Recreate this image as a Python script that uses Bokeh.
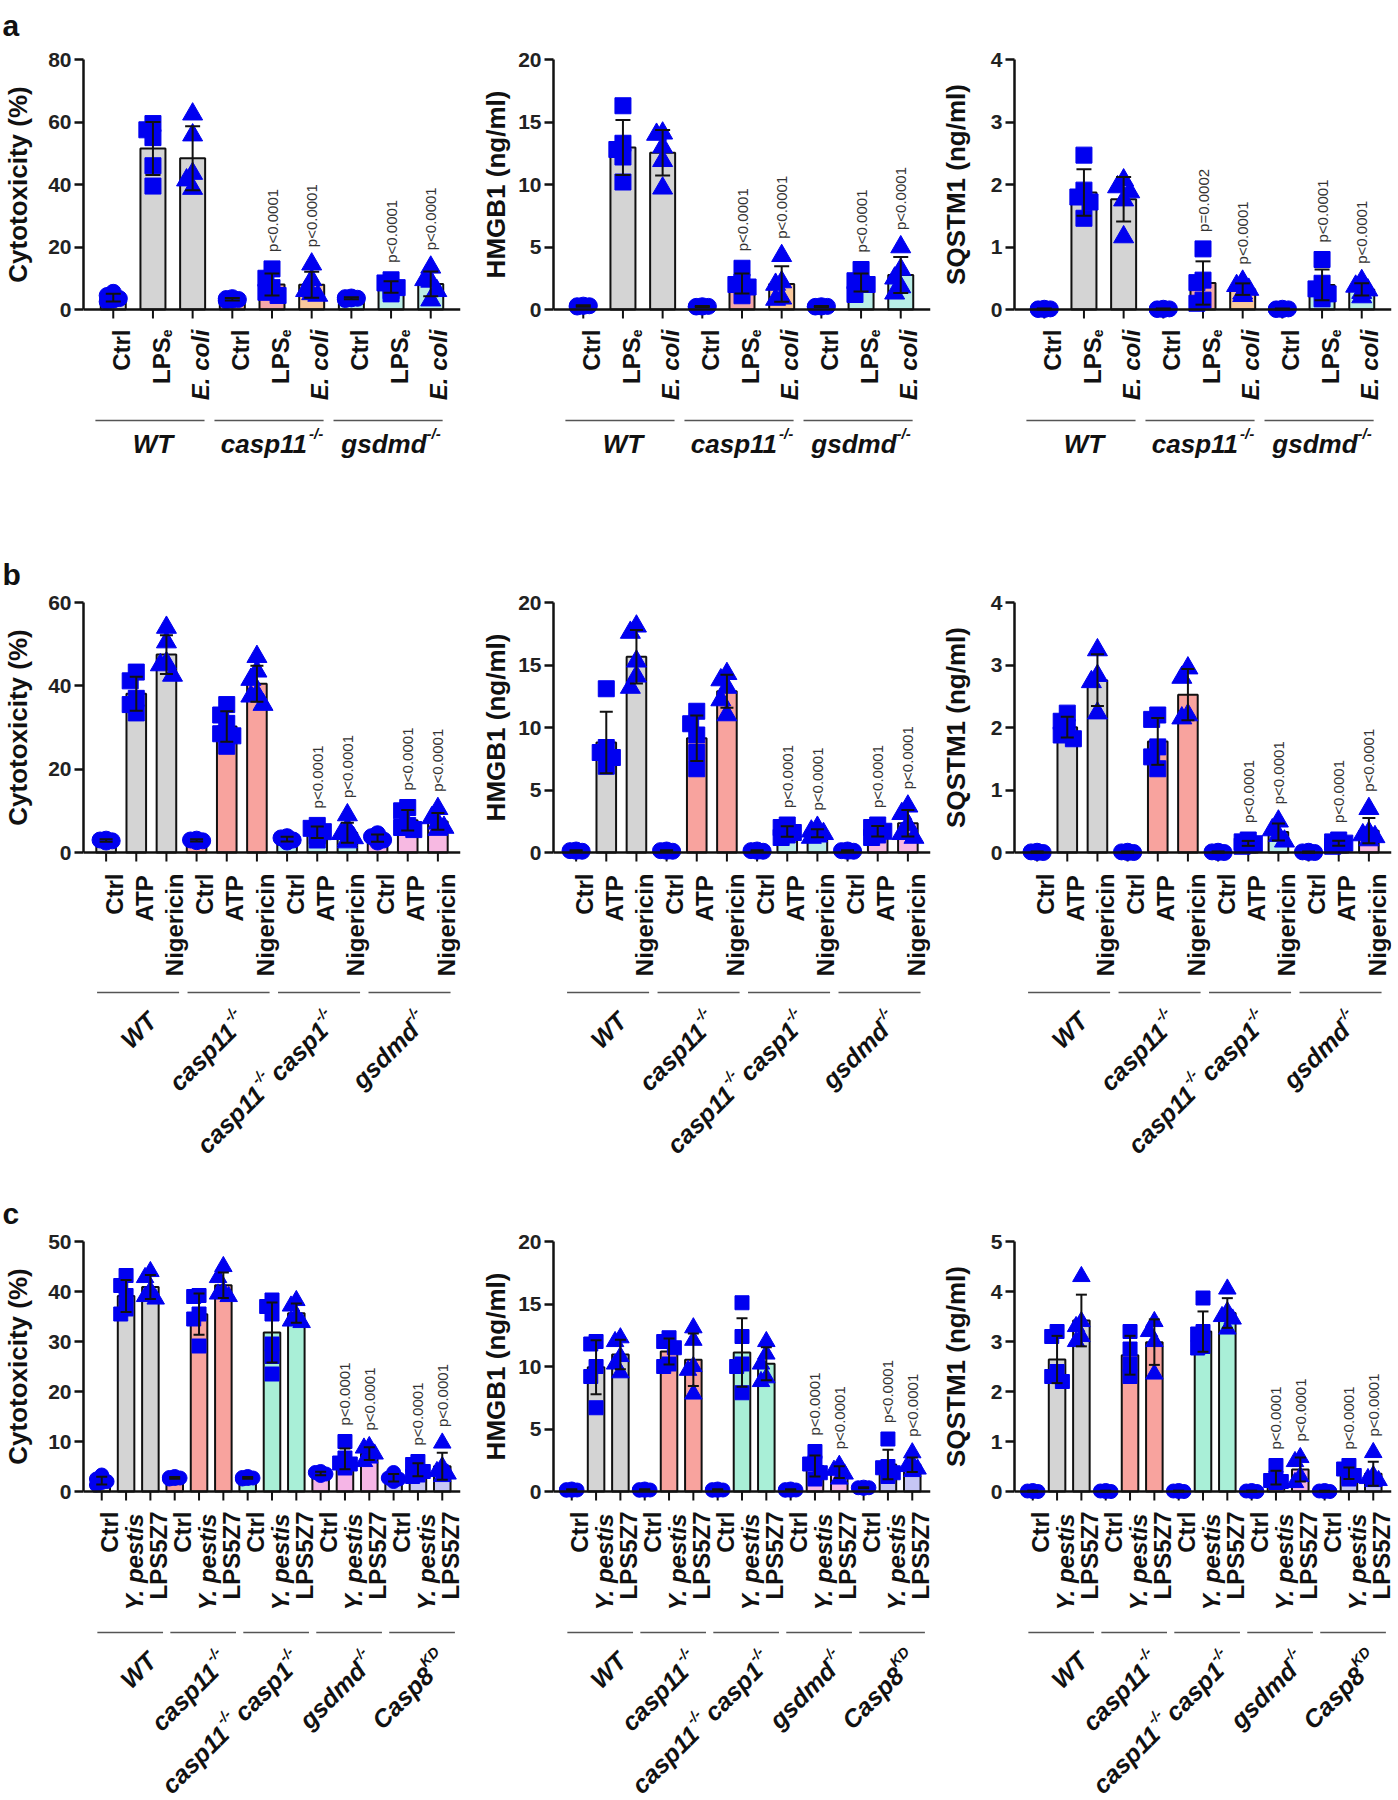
import math
import numpy as np
from bokeh.plotting import figure
from bokeh.models import Range1d, FactorRange, FixedTicker, Span
from bokeh.layouts import row, column
from bokeh.core.properties import value
from bokeh.embed import file_html
from bokeh.resources import INLINE

FONT = "Liberation Sans"
BLUE = "#0000f0"
INK = "#111111"

# ======================= DATA =======================
# ---- panel a ----
A_GROUPS = [[("WT", "n")], [("casp11", "n"), ("-/-", "sup")], [("gsdmd", "n"), ("-/-", "sup")]]
A_CONDS = [([("Ctrl", "n")], "bold"), ([("LPS", "n"), ("e", "sub")], "bold"), ([("E. coli", "n")], "bold italic")]
A_COLORS = ["#d4d4d4", "#d4d4d4", "#d4d4d4",
            "#f7b4a0", "#f4a7a9", "#f9c89c",
            "#b9ede6", "#b9ede6", "#b9ede6"]
A_CYTO = [
    [2.5, 3.0, 3.5, 4.5, 5.5],
    [59.5, 57.5, 55.0, 46.0, 39.5],
    [62.5, 55.8, 43.5, 41.4, 38.7],
    [2.8, 3.0, 3.2, 3.5, 3.8],
    [13.0, 10.0, 7.0, 5.5, 4.5],
    [14.5, 9.5, 6.0, 5.0, 4.5],
    [3.2, 3.6, 4.0, 3.4, 3.8],
    [9.5, 8.5, 7.0, 6.0, 5.0],
    [13.5, 9.5, 9.0, 6.0, 3.0],
]
A_HMGB1 = [
    [0.2, 0.3, 0.25, 0.35, 0.3],
    [16.3, 13.3, 12.8, 12.2, 10.2],
    [14.1, 14.0, 13.0, 11.9, 9.7],
    [0.2, 0.25, 0.3, 0.2, 0.25],
    [3.3, 2.2, 2.0, 1.8, 1.1],
    [4.3, 2.2, 2.0, 0.9, 0.8],
    [0.2, 0.25, 0.3, 0.2, 0.25],
    [3.2, 2.3, 2.1, 2.0, 1.2],
    [5.0, 3.2, 2.5, 1.8, 1.3],
]
A_SQSTM1 = [
    [0.0, 0.01, 0.02, 0.0, 0.01],
    [2.47, 1.91, 1.8, 1.72, 1.46],
    [2.07, 1.96, 1.88, 1.75, 1.16],
    [0.0, 0.01, 0.02, 0.0, 0.01],
    [0.97, 0.47, 0.43, 0.15, 0.1],
    [0.45, 0.38, 0.32, 0.26, 0.22],
    [0.0, 0.01, 0.02, 0.0, 0.01],
    [0.8, 0.42, 0.33, 0.25, 0.17],
    [0.46, 0.37, 0.31, 0.27, 0.2],
]
A_P = ["", "", "", "", "p<0.0001", "p<0.0001", "", "p<0.0001", "p<0.0001"]
A_P_SQSTM1 = ["", "", "", "", "p=0.0002", "p<0.0001", "", "p<0.0001", "p<0.0001"]

# ---- panel b ----
B_GROUPS = [[("WT", "n")], [("casp11", "n"), ("-/-", "sup")],
            [("casp11", "n"), ("-/- ", "sup"), ("casp1", "n"), ("-/-", "sup")],
            [("gsdmd", "n"), ("-/-", "sup")]]
B_CONDS = [([("Ctrl", "n")], "bold"), ([("ATP", "n")], "bold"), ([("Nigericin", "n")], "bold")]
B_COLORS = ["#d4d4d4"] * 3 + ["#f8a39e"] * 3 + ["#b9ebe9"] * 3 + ["#f7b9e2"] * 3
B_CYTO = [
    [2.5, 3.0, 3.2, 2.8],
    [43.3, 41.2, 37.0, 35.5, 33.5],
    [54.0, 50.5, 45.5, 42.5, 45.0],
    [2.8, 3.2, 3.0, 2.6],
    [35.5, 33.0, 31.0, 28.5, 28.0, 25.5],
    [47.0, 43.5, 41.5, 38.0, 37.5, 35.5],
    [2.5, 3.0, 3.5, 3.8],
    [6.5, 5.8, 5.0, 4.0, 3.0],
    [9.0, 5.8, 4.5, 3.5, 3.0, 2.5],
    [2.5, 3.0, 3.8, 4.5],
    [10.8, 10.0, 6.5, 6.0, 5.5],
    [10.5, 8.3, 7.0, 6.0, 5.5],
]
B_HMGB1 = [
    [0.1, 0.15, 0.2, 0.1],
    [13.1, 8.4, 8.0, 7.6, 6.9],
    [18.1, 17.6, 15.3, 14.1, 13.2],
    [0.1, 0.15, 0.2, 0.1],
    [11.3, 10.3, 9.4, 8.0, 6.7],
    [14.3, 13.8, 13.2, 12.2, 11.0],
    [0.1, 0.15, 0.2, 0.1],
    [2.2, 2.0, 1.6, 1.4, 1.2],
    [2.0, 1.7, 1.5, 1.3, 1.2],
    [0.1, 0.15, 0.2, 0.1],
    [2.2, 2.0, 1.7, 1.4, 1.2],
    [3.7, 3.1, 2.2, 1.5, 1.2],
]
B_SQSTM1 = [
    [0.0, 0.01, 0.02, 0.0],
    [2.23, 2.1, 2.0, 1.88, 1.82],
    [3.24, 2.83, 2.73, 2.23],
    [0.0, 0.01, 0.02, 0.0],
    [2.2, 2.13, 1.69, 1.53, 1.34],
    [2.95, 2.8, 2.2, 2.15],
    [0.0, 0.01, 0.02, 0.0],
    [0.2, 0.17, 0.14, 0.12, 0.1],
    [0.5, 0.36, 0.27, 0.18],
    [0.0, 0.01, 0.02, 0.0],
    [0.2, 0.17, 0.15, 0.12, 0.1],
    [0.7, 0.32, 0.28, 0.25, 0.2],
]
B_P = ["", "", "", "", "", "", "", "p<0.0001", "p<0.0001", "", "p<0.0001", "p<0.0001"]

# ---- panel c ----
C_GROUPS = [[("WT", "n")], [("casp11", "n"), ("-/-", "sup")],
            [("casp11", "n"), ("-/- ", "sup"), ("casp1", "n"), ("-/-", "sup")],
            [("gsdmd", "n"), ("-/-", "sup")], [("Casp8", "n"), ("KD", "sup")]]
C_CONDS = [([("Ctrl", "n")], "bold"), ([("Y. pestis", "n")], "bold italic"), ([("LPS5Z7", "n")], "bold")]
C_COLORS = ["#d4d4d4"] * 3 + ["#f8a39e"] * 3 + ["#a9efd7"] * 3 + ["#f5b5e6"] * 3 + ["#c6c6f4"] * 3
C_CYTO = [
    [3.3, 2.0, 1.3, 2.5, 1.8],
    [43.2, 41.2, 39.2, 36.5, 35.5],
    [44.0, 42.8, 40.2, 39.0, 38.5],
    [2.6, 2.8, 3.0, 2.5, 2.7],
    [39.2, 39.0, 35.5, 34.5, 29.1],
    [45.0, 42.8, 40.0, 39.0, 39.5],
    [2.5, 2.8, 3.0, 2.6, 2.7],
    [38.3, 37.0, 35.5, 29.5, 27.0, 23.5],
    [38.2, 37.1, 35.1, 34.1, 33.8],
    [3.5, 4.0, 3.2, 3.8],
    [10.0, 6.7, 5.7, 5.5, 4.7],
    [9.0, 8.7, 7.5, 6.7, 6.0],
    [3.8, 2.7, 2.0, 2.5],
    [6.0, 5.4, 4.0, 3.3, 3.0],
    [9.7, 5.0, 4.0, 3.5, 3.0],
]
C_HMGB1 = [
    [0.1, 0.15, 0.2, 0.1, 0.12],
    [12.0, 11.8, 10.0, 9.2, 6.7],
    [12.3, 12.0, 10.8, 10.2, 9.5],
    [0.1, 0.15, 0.2, 0.1, 0.12],
    [12.3, 12.0, 11.5, 10.2, 10.0],
    [13.1, 12.1, 10.0, 9.7, 7.8],
    [0.1, 0.15, 0.2, 0.1, 0.12],
    [15.1, 12.4, 10.2, 10.0, 7.9],
    [12.0, 11.0, 10.2, 9.1, 8.8],
    [0.1, 0.15, 0.2, 0.1, 0.12],
    [3.2, 2.3, 2.2, 1.5, 1.0],
    [2.1, 1.7, 1.4, 1.0],
    [0.3, 0.25, 0.35, 0.3],
    [4.2, 2.0, 1.9, 1.5, 1.2],
    [3.1, 2.2, 2.0, 1.8, 1.6],
]
C_SQSTM1 = [
    [0.0, 0.01, 0.02, 0.0],
    [3.2, 3.1, 2.4, 2.3, 2.2],
    [4.3, 3.4, 3.3, 3.1, 3.0],
    [0.0, 0.01, 0.02, 0.0],
    [3.2, 2.85, 2.55, 2.3],
    [3.4, 3.2, 3.0, 2.35],
    [0.0, 0.01, 0.02, 0.0],
    [3.87, 3.2, 3.15, 2.9, 2.87],
    [4.05, 3.6, 3.5, 3.45, 3.25],
    [0.0, 0.01, 0.02, 0.0],
    [0.52, 0.27, 0.22, 0.2, 0.18],
    [0.68, 0.6, 0.3, 0.18],
    [0.0, 0.01, 0.02, 0.0],
    [0.52, 0.45, 0.32, 0.28, 0.25],
    [0.78, 0.32, 0.26, 0.22, 0.2],
]
C_P = ["", "", "", "", "", "", "", "", "", "", "p<0.0001", "p<0.0001", "", "p<0.0001", "p<0.0001"]

Y_LABELS = ["Cytotoxicity (%)", "HMGB1 (ng/ml)", "SQSTM1 (ng/ml)"]

# ======================= helpers =======================
FRAME_W = 377
PLOT_PX = 250
PAD = 12
LEFTS = [83, 78, 78]
RIGHTS = [15, 6, 6]
YLAB_STANDOFF = [12, 4, 17]

W_TABLE = {' ': 278, '-': 333, '/': 278, '.': 278, '<': 584, '=': 584,
           'a': 556, 'b': 611, 'c': 556, 'd': 611, 'e': 556, 'g': 611, 'i': 278, 'l': 278,
           'm': 889, 'n': 611, 'o': 611, 'p': 611, 'r': 389, 's': 556, 't': 333, 'x': 556, 'y': 556,
           'A': 722, 'C': 722, 'D': 722, 'E': 667, 'K': 722, 'L': 611, 'N': 722, 'P': 667,
           'S': 667, 'T': 611, 'W': 944, 'Y': 667, 'Z': 611}


def tw(s, fs):
    return sum(W_TABLE.get(ch, 556) for ch in s) / 1000.0 * fs


def rich_text(p, xf, ax, ay, segs, fs, angle, align, style):
    small = fs * 0.58
    sizes = [small if k in ("sup", "sub") else fs for _, k in segs]
    widths = [tw(t, f) for (t, _), f in zip(segs, sizes)]
    W = sum(widths)
    ux, uy = math.cos(angle), math.sin(angle)
    vx, vy = -uy, ux
    s = {"right": -W, "center": -W / 2.0}.get(align, 0.0)
    for (t, k), f, w in zip(segs, sizes, widths):
        r = {"sup": fs * 0.40, "sub": -fs * 0.26}.get(k, 0.0)
        px = ax + s * ux + r * vx
        py = ay + s * uy + r * vy
        p.text(x=[xf], y=[py], x_offset=px, text=[t], angle=angle,
               text_align="left", text_baseline="alphabetic",
               text_font=value(FONT), text_font_size=f"{f:.1f}px",
               text_font_style=style, text_color=INK)
        s += w


def spread(vals, ppu, size):
    """Deterministic Prism-like scatter spreading, offsets in pixels."""
    order = sorted(range(len(vals)), key=lambda i: -vals[i])
    d = size * 0.38
    cands = [0.0, -d, d]
    placed, offs = [], [0.0] * len(vals)
    for i in order:
        y = vals[i] * ppu
        best, bestc = 0.0, None
        for c in cands:
            conf = sum(1 for (qx, qy) in placed if abs(qx - c) < size * 0.3 and abs(qy - y) < size * 0.8)
            if bestc is None or conf < bestc:
                best, bestc = c, conf
            if conf == 0:
                break
        offs[i] = best
        placed.append((best, y))
    return offs


def make_panel(col, groups, conds, values, colors, pvals, ymax, ystep, ylabel,
               row_h, top_border, msize, bar_w, cap_px,
               cat_top, line_y, line_ext, group_mode, group_anchor,
               letter=None, letter_standoff=0):
    ng, nc = len(groups), len(conds)
    N = ng * nc
    factors = [f"{g}:{c}" for g in range(ng) for c in range(nc)]
    spacing = FRAME_W / (N + 0.5)
    ppu = PLOT_PX / ymax
    xr = FactorRange(factors=factors, range_padding=0.25, range_padding_units="absolute")
    L, R = LEFTS[col], RIGHTS[col]

    # ---------- top: data area with y axis ----------
    top_h = (top_border - PAD) + PLOT_PX + 2 * PAD
    p = figure(x_range=xr, y_range=Range1d(-PAD / ppu, ymax + PAD / ppu),
               frame_width=FRAME_W, frame_height=PLOT_PX + 2 * PAD,
               min_border_left=L, min_border_right=R,
               min_border_top=top_border - PAD, min_border_bottom=0,
               x_axis_location=None, toolbar_location=None, output_backend="svg")
    p.grid.visible = False
    p.outline_line_color = None

    ax = p.yaxis[0]
    ax.ticker = FixedTicker(ticks=list(range(0, ymax + 1, ystep)))
    ax.bounds = (0, ymax)
    ax.axis_line_width = 2.5
    ax.axis_line_color = INK
    ax.major_tick_line_width = 2.5
    ax.major_tick_line_color = INK
    ax.major_tick_out = 9
    ax.major_tick_in = 0
    ax.minor_tick_line_color = None
    ax.major_label_text_font = FONT
    ax.major_label_text_font_size = "21px"
    ax.major_label_text_font_style = "bold"
    ax.major_label_text_color = "#222222"
    ax.major_label_standoff = 3
    ax.axis_label = ylabel
    ax.axis_label_text_font = FONT
    ax.axis_label_text_font_size = "26px"
    ax.axis_label_text_font_style = "bold"
    ax.axis_label_text_color = INK
    ax.axis_label_standoff = YLAB_STANDOFF[col]

    if letter:
        p.title.text = letter
        p.title.align = "left"
        p.title.offset = -L + 2
        p.title.vertical_align = "bottom"
        p.title.standoff = letter_standoff
        p.title.text_font = FONT
        p.title.text_font_size = "30px"
        p.title.text_font_style = "bold"
        p.title.text_color = INK

    p.add_layout(Span(location=0, dimension="width", line_color=INK, line_width=2.5))
    p.segment(x0=factors, y0=[0] * N, x1=factors, y1=[-9 / ppu] * N, line_color=INK, line_width=2)

    means = [float(np.mean(v)) for v in values]
    sds = [float(np.std(v, ddof=1)) for v in values]
    p.vbar(x=factors, top=means, bottom=0, width=bar_w, fill_color=colors,
           line_color=INK, line_width=2)

    markers = ["circle", "square", "triangle"]
    for k, f in enumerate(factors):
        vals = values[k]
        offs = spread(vals, ppu, msize)
        mk = markers[k % nc]
        xs = [(f, o / spacing) for o in offs]
        sz = msize * 1.25 if mk == "triangle" else msize
        p.scatter(x=xs, y=vals, marker=mk, size=sz, fill_color=BLUE, line_color=BLUE)

    lo = [m - s for m, s in zip(means, sds)]
    hi = [m + s for m, s in zip(means, sds)]
    cu = (cap_px / 2.0) / spacing
    p.segment(x0=factors, y0=lo, x1=factors, y1=hi, line_color=INK, line_width=2)
    for yy in (lo, hi):
        p.segment(x0=[(f, -cu) for f in factors], y0=yy, x1=[(f, cu) for f in factors], y1=yy,
                  line_color=INK, line_width=2)

    for k, f in enumerate(factors):
        if pvals[k]:
            top = max(max(values[k]), hi[k])
            y0 = top + (msize / 2 + 9) / ppu
            p.text(x=[f], y=[y0], text=[pvals[k]], angle=math.pi / 2, text_align="left",
                   text_baseline="middle", text_font=value(FONT),
                   text_font_size="15px", text_color="#333333")

    # ---------- bottom: category / group labels (y in pixels below zero) ----------
    bot_h = row_h - top_h
    q = figure(x_range=xr, y_range=Range1d(-(PAD + bot_h), -PAD),
               frame_width=FRAME_W, frame_height=bot_h,
               min_border_left=L, min_border_right=R, min_border_top=0, min_border_bottom=0,
               x_axis_location=None, y_axis_location=None,
               toolbar_location=None, output_backend="svg")
    q.grid.visible = False
    q.outline_line_color = None

    CAT_FS = 24
    for g in range(ng):
        for c in range(nc):
            segs, style = conds[c]
            rich_text(q, factors[g * nc + c], 0.34 * CAT_FS, cat_top, segs, CAT_FS,
                      math.pi / 2, "right", style)

    a0, a1 = line_ext
    for g in range(ng):
        f0, f1 = factors[g * nc], factors[g * nc + nc - 1]
        q.segment(x0=[(f0, a0)], y0=[-line_y], x1=[(f1, a1)], y1=[-line_y],
                  line_color="#555555", line_width=1.6)
        fm = factors[g * nc + nc // 2]
        gx, gy = group_anchor
        if group_mode == "h":
            rich_text(q, fm, gx, gy, groups[g], 26, 0.0, "center", "bold italic")
        else:
            rich_text(q, fm, gx, gy, groups[g], 25, math.pi / 4, "right", "bold italic")

    return column(p, q)


specs_a = [(A_CYTO, A_P, 80, 20), (A_HMGB1, A_P, 20, 5), (A_SQSTM1, A_P_SQSTM1, 4, 1)]
row_a = row(*[make_panel(i, A_GROUPS, A_CONDS, vals, A_COLORS, pv, ym, st, Y_LABELS[i],
                         row_h=540, top_border=59, msize=16, bar_w=0.63, cap_px=15,
                         cat_top=-20, line_y=111, line_ext=(-0.45, 0.3),
                         group_mode="h", group_anchor=(0, -134),
                         letter="a" if i == 0 else None, letter_standoff=11)
              for i, (vals, pv, ym, st) in enumerate(specs_a)])

specs_b = [(B_CYTO, 60, 20), (B_HMGB1, 20, 5), (B_SQSTM1, 4, 1)]
row_b = row(*[make_panel(i, B_GROUPS, B_CONDS, vals, B_COLORS, B_P, ym, st, Y_LABELS[i],
                         row_h=640, top_border=62, msize=16, bar_w=0.65, cap_px=13,
                         cat_top=-21, line_y=140, line_ext=(-0.3, 0.42),
                         group_mode="r", group_anchor=(16, -164),
                         letter="b" if i == 0 else None, letter_standoff=0)
              for i, (vals, ym, st) in enumerate(specs_b)])

specs_c = [(C_CYTO, 50, 10), (C_HMGB1, 20, 5), (C_SQSTM1, 5, 1)]
row_c = row(*[make_panel(i, C_GROUPS, C_CONDS, vals, C_COLORS, C_P, ym, st, Y_LABELS[i],
                         row_h=618, top_border=61, msize=14, bar_w=0.68, cap_px=11,
                         cat_top=-20, line_y=141, line_ext=(-0.18, 0.52),
                         group_mode="r", group_anchor=(26, -165),
                         letter="c" if i == 0 else None, letter_standoff=0)
              for i, (vals, ym, st) in enumerate(specs_c)])

layout = column(row_a, row_b, row_c)
open("out.html", "w").write(file_html(layout, INLINE))
